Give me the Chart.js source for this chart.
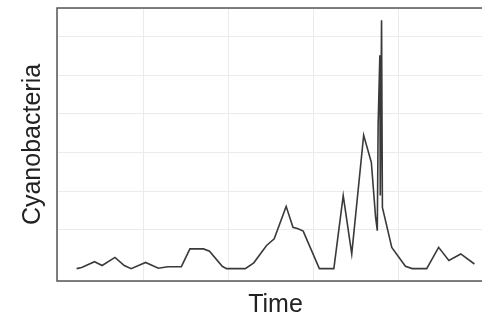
<!DOCTYPE html>
<html>
<head>
<meta charset="utf-8">
<script src="https://cdn.jsdelivr.net/npm/chart.js@4/dist/chart.umd.min.js"></script>
<style>
  html, body { margin: 0; padding: 0; background: #fff; overflow: hidden; }
  #wrap { width: 482px; height: 320px; overflow: hidden; }
</style>
</head>
<body>
<div id="wrap"><canvas id="chart" width="500" height="320"></canvas></div>
<script>
// time in decimal years
var times = [
  2009.22, 2009.28, 2009.43, 2009.52, 2009.67, 2009.78, 2009.86, 2010.03, 2010.18,
  2010.29, 2010.45, 2010.55, 2010.71, 2010.78, 2010.93, 2010.98, 2011.20, 2011.30,
  2011.45, 2011.54, 2011.68, 2011.76, 2011.82, 2011.88, 2012.07, 2012.24, 2012.35,
  2012.45, 2012.59, 2012.68, 2012.73, 2012.75, 2012.76, 2012.78, 2012.785, 2012.80,
  2012.81, 2012.92, 2013.08, 2013.16, 2013.33, 2013.47, 2013.59, 2013.73, 2013.89
];
var cyanobacteria = [
  0.00, 0.03, 0.18, 0.08, 0.29, 0.08, 0.00, 0.16, 0.01,
  0.05, 0.05, 0.51, 0.51, 0.45, 0.06, 0.00, 0.00, 0.15,
  0.60, 0.77, 1.61, 1.07, 1.03, 0.97, 0.00, 0.00, 1.89,
  0.38, 3.45, 2.75, 1.33, 0.98, 3.75, 5.52, 1.89, 6.42,
  1.58, 0.55, 0.06, 0.00, 0.00, 0.55, 0.21, 0.38, 0.12
];

var points = times.map(function(t, i) { return { x: t, y: cyanobacteria[i] }; });

// full panel border like a ggplot theme_bw panel
var panelBorder = {
  id: 'panelBorder',
  afterDraw: function(chart) {
    var a = chart.chartArea, ctx = chart.ctx;
    ctx.save();
    ctx.strokeStyle = '#555555';
    ctx.lineWidth = 1.5;
    ctx.strokeRect(a.left, a.top, a.right - a.left, a.bottom - a.top);
    ctx.restore();
  }
};

new Chart(document.getElementById('chart'), {
  type: 'line',
  data: {
    datasets: [{
      data: points,
      borderColor: '#3a3a3a',
      borderWidth: 1.6,
      pointRadius: 0,
      tension: 0,
      fill: false
    }]
  },
  options: {
    responsive: false,
    animation: false,
    layout: { padding: { left: 10, right: 6, top: 8, bottom: 0 } },
    plugins: { legend: { display: false }, tooltip: { enabled: false } },
    scales: {
      x: {
        type: 'linear',
        min: 2008.99,
        max: 2014.12,
        ticks: { display: false, stepSize: 1 },
        grid: {
          drawTicks: false,
          lineWidth: 1,
          color: function(c) { return c.tick && c.tick.value === 2009 ? 'rgba(0,0,0,0)' : '#ebebeb'; }
        },
        border: { display: false },
        title: {
          display: true,
          text: 'Time',
          color: '#222',
          font: { family: 'Liberation Sans, Arial, sans-serif', size: 25 },
          padding: { top: 9, bottom: 0 }
        }
      },
      y: {
        min: -0.32,
        max: 6.74,
        ticks: { display: false, stepSize: 1 },
        grid: { drawTicks: false, lineWidth: 1, color: '#ebebeb' },
        border: { display: false },
        title: {
          display: true,
          text: 'Cyanobacteria',
          color: '#222',
          font: { family: 'Liberation Sans, Arial, sans-serif', size: 25 },
          padding: { top: 8, bottom: 9 }
        }
      }
    }
  },
  plugins: [panelBorder]
});
</script>
</body>
</html>
